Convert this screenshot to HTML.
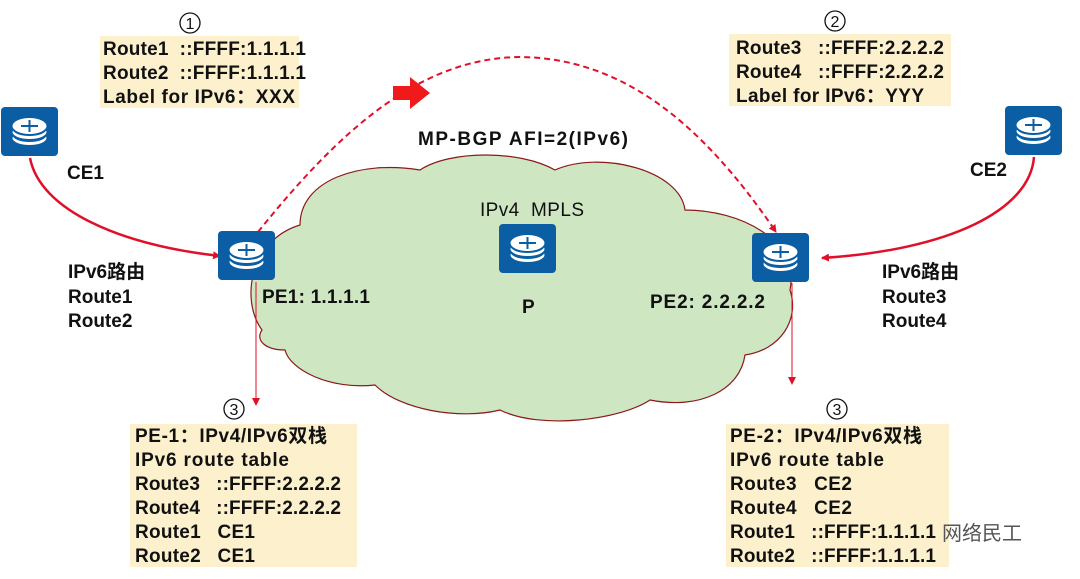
<!DOCTYPE html>
<html><head><meta charset="utf-8"><style>
html,body{margin:0;padding:0;background:#fff;}
svg{display:block;}
text{font-family:"Liberation Sans","Noto Sans CJK SC",sans-serif;font-weight:bold;font-size:19px;fill:#111;white-space:pre;}
.n{font-weight:normal;}
</style></head><body>
<svg width="1080" height="579" viewBox="0 0 1080 579" xmlns="http://www.w3.org/2000/svg" xml:space="preserve">
<defs>
<marker id="ah" markerWidth="8" markerHeight="8" refX="7" refY="4" orient="auto" markerUnits="userSpaceOnUse"><path d="M0,0 L8,4 L0,8 z" fill="#e0102a"/></marker>
<g id="rt">
<rect x="0" y="0" width="57" height="49" rx="4" fill="#0b5ea3"/>
<ellipse cx="28.5" cy="31" rx="17" ry="7" fill="#fff"/>
<ellipse cx="28.5" cy="28" rx="17" ry="7" fill="#0b5ea3"/>
<ellipse cx="28.5" cy="25" rx="17" ry="7" fill="#fff"/>
<ellipse cx="28.5" cy="22" rx="17" ry="7" fill="#0b5ea3"/>
<ellipse cx="28.5" cy="19" rx="17" ry="8" fill="#fff"/>
<path d="M20,19 h17 M28.5,13 v12" stroke="#0b5ea3" stroke-width="2"/>
</g>
<g id="cn"><circle cx="0" cy="0" r="10" fill="none" stroke="#111" stroke-width="1.3"/></g>
</defs>
<path d="M262,330 C240,300 250,240 300,225 C300,180 360,160 420,170 C450,150 520,150 555,170 C600,150 680,170 685,210 C740,210 800,240 790,290 C800,320 780,350 745,355 C740,390 700,410 650,400 C620,420 540,430 500,410 C460,420 400,410 375,385 C330,390 290,370 285,350 C265,350 255,340 262,330 Z" fill="#cfe6c3" stroke="#8b1a1a" stroke-width="1.2"/>
<rect x="100" y="36" width="199" height="72" fill="#fdf1cd"/>
<rect x="729" y="34" width="222" height="72" fill="#fdf1cd"/>
<rect x="130" y="424" width="227" height="143" fill="#fdf1cd"/>
<rect x="726" y="424" width="223" height="143" fill="#fdf1cd"/>
<path d="M30,158 C40,210 120,245 220,256" fill="none" stroke="#e0102a" stroke-width="2.5" marker-end="url(#ah)"/>
<path d="M1034,157 C1030,210 950,250 822,258" fill="none" stroke="#e0102a" stroke-width="2.5" marker-end="url(#ah)"/>
<path d="M258,232 C340,130 420,58 520,57 C620,58 700,120 776,232" fill="none" stroke="#e0102a" stroke-width="2" stroke-dasharray="6,4" marker-end="url(#ah)"/>
<path d="M393,86 h17 v-9 l20,16 l-20,16 v-9 h-17 z" fill="#f11a1a"/>
<line x1="256" y1="282" x2="256" y2="405" stroke="#e0102a" stroke-width="1" marker-end="url(#ah)"/>
<line x1="792" y1="283" x2="792" y2="384" stroke="#e0102a" stroke-width="1" marker-end="url(#ah)"/>
<use href="#rt" x="1" y="107"/>
<use href="#rt" x="1005" y="106"/>
<use href="#rt" x="218" y="231"/>
<use href="#rt" x="752" y="233"/>
<use href="#rt" x="499" y="224"/>
<use href="#cn" x="190" y="23"/><text class="n" x="190" y="29" font-size="16" style="font-size:16px" text-anchor="middle">1</text>
<use href="#cn" x="835" y="21"/><text class="n" x="835" y="27" style="font-size:16px" text-anchor="middle">2</text>
<use href="#cn" x="234" y="409"/><text class="n" x="234" y="415" style="font-size:16px" text-anchor="middle">3</text>
<use href="#cn" x="837" y="409"/><text class="n" x="837" y="415" style="font-size:16px" text-anchor="middle">3</text>
<text x="103" y="55" textLength="203">Route1  ::FFFF:1.1.1.1</text>
<text x="103" y="79" textLength="203">Route2  ::FFFF:1.1.1.1</text>
<text x="103" y="103" textLength="192">Label for IPv6：XXX</text>
<text x="736" y="54" textLength="208">Route3   ::FFFF:2.2.2.2</text>
<text x="736" y="78" textLength="208">Route4   ::FFFF:2.2.2.2</text>
<text x="736" y="102" textLength="188">Label for IPv6：YYY</text>
<text x="418" y="145" textLength="210">MP-BGP AFI=2(IPv6)</text>
<text x="67" y="179">CE1</text>
<text x="970" y="176">CE2</text>
<text class="n" x="480" y="216" textLength="104">IPv4  MPLS</text>
<text x="522" y="313">P</text>
<text x="262" y="303" textLength="108">PE1: 1.1.1.1</text>
<text x="650" y="308" textLength="115">PE2: 2.2.2.2</text>
<text x="68" y="278">IPv6路由</text>
<text x="68" y="303">Route1</text>
<text x="68" y="327">Route2</text>
<text x="882" y="278">IPv6路由</text>
<text x="882" y="303">Route3</text>
<text x="882" y="327">Route4</text>
<text x="135" y="442" textLength="192">PE-1：IPv4/IPv6双栈</text>
<text x="135" y="466" textLength="154">IPv6 route table</text>
<text x="135" y="490" textLength="206">Route3   ::FFFF:2.2.2.2</text>
<text x="135" y="514" textLength="206">Route4   ::FFFF:2.2.2.2</text>
<text x="135" y="538" textLength="120">Route1   CE1</text>
<text x="135" y="562" textLength="120">Route2   CE1</text>
<text x="730" y="442" textLength="192">PE-2：IPv4/IPv6双栈</text>
<text x="730" y="466" textLength="154">IPv6 route table</text>
<text x="730" y="490" textLength="122">Route3   CE2</text>
<text x="730" y="514" textLength="122">Route4   CE2</text>
<text x="730" y="538" textLength="206">Route1   ::FFFF:1.1.1.1</text>
<text x="730" y="562" textLength="206">Route2   ::FFFF:1.1.1.1</text>
<text class="n" x="942" y="540" style="fill:#555;font-size:20px">网络民工</text>
</svg>
</body></html>
